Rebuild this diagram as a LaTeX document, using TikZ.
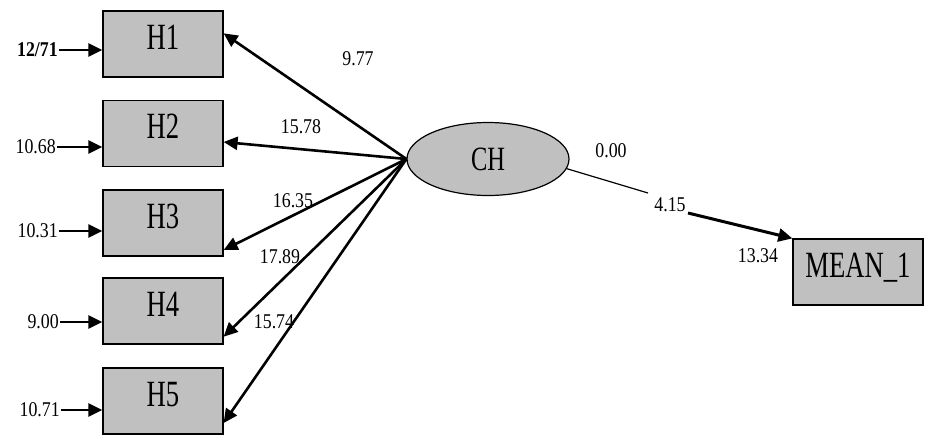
\documentclass[tikz,border=0pt]{standalone}
\usepackage{fontspec}
\setmainfont{Liberation Serif}
\newfontfamily\boxfont[FakeStretch=0.72]{Liberation Serif}
\newfontfamily\numfont[FakeStretch=0.85]{Liberation Serif}
\usetikzlibrary{arrows.meta,shapes.geometric}
\definecolor{boxgray}{RGB}{192,192,192}
\tikzset{
  var/.style={draw,fill=boxgray,line width=1.2pt,inner sep=0pt,
    minimum width=120pt,minimum height=66pt,text height=30pt,text depth=20pt,
    font=\boxfont\fontsize{37}{37}\selectfont},
  latent/.style={ellipse,draw,fill=boxgray,line width=1.2pt,inner sep=0pt,
    minimum width=162pt,minimum height=73pt,
    font=\boxfont\fontsize{34}{34}\selectfont},
  num/.style={inner sep=1pt,font=\numfont\fontsize{21}{21}\selectfont},
  err/.style={num,anchor=east},
  path/.style={line width=2.6pt,-{Triangle[length=14pt,width=13pt]}},
}
\begin{document}
\begin{tikzpicture}[x=1pt,y=-1pt]
  \useasboundingbox (0,0) rectangle (925,434);
  \draw
    (163,44) node[var] (H1){H1}
    (163,133.5) node[var] (H2){H2}
    (163,223) node[var] (H3){H3}
    (163,311) node[var] (H4){H4}
    (163,401) node[var] (H5){H5}
    (488,159) node[latent] (CH){CH}
    (858,272) node[var,minimum width=130pt,minimum height=66pt] (M1){MEAN\_1};
  % error terms
  \draw
    (59,50) node[err,font=\numfont\bfseries\fontsize{21}{21}\selectfont] (e1){12/71}
    (57,147) node[err] (e2){10.68}
    (59,231) node[err] (e3){10.31}
    (60,322) node[err] (e4){9.00}
    (61,410) node[err] (e5){10.71};
  \begin{scope}[path]
    \draw (e1.east) -- (e1.east -| H1.west);
    \draw (e2.east) -- (e2.east -| H2.west);
    \draw (e3.east) -- (e3.east -| H3.west);
    \draw (e4.east) -- (e4.east -| H4.west);
    \draw (e5.east) -- (e5.east -| H5.west);
  \end{scope}
  % loadings
  \begin{scope}[path]
    \draw (CH.west) -- (H1.10);
    \draw (CH.west) -- (H2.-8);
    \draw (CH.west) -- (H3.-24);
    \draw (CH.west) -- (H4.-23);
    \draw (CH.west) -- (H5.-20);
  \end{scope}
  \draw
    (358,59) node[num] (l1){9.77}
    (301,127) node[num] (l2){15.78}
    (293,201) node[num] (l3){16.35}
    (280,257) node[num] (l4){17.89}
    (274,322) node[num] (l5){15.74}
    (611,151) node[num] (l6){0.00}
    (670,205) node[num] (l7){4.15}
    (758,256) node[num] (l8){13.34};
  % mean path
  \coordinate (k1) at (648,193);
  \coordinate (k2) at (688,213);
  \draw[line width=1.2pt] (CH.-7) -- (k1);
  \draw[path,line width=3pt] (k2) -- (M1.north west);
\end{tikzpicture}
\end{document}
